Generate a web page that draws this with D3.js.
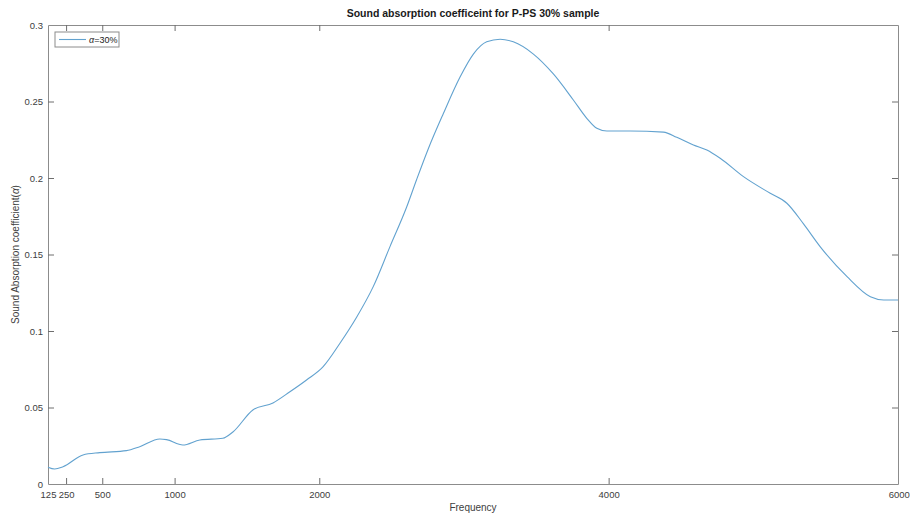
<!DOCTYPE html>
<html lang="en">
<head>
<meta charset="utf-8">
<title>Sound absorption coefficient - P-PS 30%</title>
<script src="https://cdn.jsdelivr.net/npm/d3@7"></script>
<style>
  body { margin: 0; background: #fff; }
  svg text { font-family: "Liberation Sans", Arial, sans-serif; }
</style>
</head>
<body>
<div id="chart"></div>
<script>
// values
var freq = [125, 171, 229, 367, 483, 667, 759, 898, 944, 1057, 1175, 1333, 1403, 1541, 1680,
  1797, 1912, 2027, 2143, 2258, 2373, 2488, 2604, 2673, 2753, 2857, 2973, 3065, 3157, 3250,
  3341, 3480, 3618, 3756, 3849, 3918, 3988, 4149, 4379, 4471, 4586, 4679, 4771, 4932, 5117,
  5232, 5347, 5463, 5648, 5809, 5901, 6000];
var alpha30 = [0.011, 0.0098, 0.0113, 0.019, 0.0205, 0.0218, 0.0244, 0.0294, 0.029, 0.0255, 0.0288, 0.0299, 0.034, 0.0484, 0.053,
  0.0603, 0.068, 0.0767, 0.092, 0.109, 0.129, 0.155, 0.181, 0.199, 0.219, 0.242, 0.266, 0.281, 0.289, 0.2907,
  0.289, 0.281, 0.268, 0.251, 0.239, 0.2325, 0.2307, 0.2307, 0.230, 0.2266, 0.2216, 0.2183, 0.2129, 0.2009, 0.190,
  0.1835, 0.170, 0.155, 0.1355, 0.1224, 0.1203, 0.1203];
var xTicks = [125, 250, 500, 1000, 2000, 4000, 6000];
var yTicks = [0, 0.05, 0.1, 0.15, 0.2, 0.25, 0.3];

var W = 910, H = 515;
var margin = {top: 25, right: 12, bottom: 31, left: 48};
var w = W - margin.left - margin.right,
    h = H - margin.top - margin.bottom;

var svg = d3.select("#chart").append("svg")
    .attr("width", W).attr("height", H);

var g = svg.append("g")
    .attr("transform", "translate(" + margin.left + "," + margin.top + ")");

var x = d3.scaleLinear().domain([125, 6000]).range([0, w]);
var y = d3.scaleLinear().domain([0, 0.3]).range([h, 0]);

var axisColor = "#8c8c8c", textColor = "#404040";

// bottom + top axes (ticks inside, matlab style)
var xb = g.append("g").attr("transform", "translate(0," + h + ")")
    .call(d3.axisBottom(x).tickValues(xTicks).tickSizeInner(-6).tickSizeOuter(0).tickPadding(7)
      .tickFormat(d3.format("d")));
var xt = g.append("g")
    .call(d3.axisTop(x).tickValues(xTicks).tickSizeInner(-6).tickSizeOuter(0).tickFormat(""));
var yl = g.append("g")
    .call(d3.axisLeft(y).tickValues(yTicks).tickSizeInner(-6).tickSizeOuter(0).tickPadding(5)
      .tickFormat(function(d) { return String(+d.toFixed(2)); }));
var yr = g.append("g").attr("transform", "translate(" + w + ",0)")
    .call(d3.axisRight(y).tickValues(yTicks).tickSizeInner(-6).tickSizeOuter(0).tickFormat(""));

[xb, xt, yl, yr].forEach(function(a) {
  a.select(".domain").attr("stroke", axisColor);
  a.selectAll(".tick line").attr("stroke", "#6e6e6e");
  a.selectAll(".tick text").attr("fill", textColor).style("font-size", "9.5px");
});
// drop ticks that sit on the frame corners
xb.selectAll(".tick line").filter(function(d) { return d == 125 || d == 6000; }).remove();
xt.selectAll(".tick line").filter(function(d) { return d == 125 || d == 6000; }).remove();
yl.selectAll(".tick line").filter(function(d) { return d == 0 || d == 0.3; }).remove();
yr.selectAll(".tick line").filter(function(d) { return d == 0 || d == 0.3; }).remove();
// last label stays inside the window
xb.selectAll(".tick text").filter(function(d) { return d == 6000; }).attr("text-anchor", "end").attr("dx", "1.2em");

// the curve
var data = freq.map(function(f, i) { return {f: f, a: alpha30[i]}; });
var line = d3.line()
    .x(function(d) { return x(d.f); })
    .y(function(d) { return y(d.a); })
    .curve(d3.curveMonotoneX);

g.append("path")
    .datum(data)
    .attr("fill", "none")
    .attr("stroke", "#62a2cf")
    .attr("stroke-width", 1.1)
    .attr("d", line);

// title and labels
svg.append("text")
    .attr("x", margin.left + w / 2).attr("y", 17)
    .attr("text-anchor", "middle")
    .style("font-size", "10.5px").style("font-weight", "bold")
    .attr("fill", "#1a1a1a")
    .text("Sound absorption coefficeint for P-PS 30% sample");

svg.append("text")
    .attr("x", margin.left + w / 2).attr("y", 511)
    .attr("text-anchor", "middle")
    .style("font-size", "10px")
    .attr("fill", textColor)
    .text("Frequency");

var ylab = svg.append("text")
    .attr("transform", "translate(19," + (margin.top + h / 2) + ") rotate(-90)")
    .attr("text-anchor", "middle")
    .style("font-size", "10px")
    .attr("fill", textColor);
ylab.append("tspan").text("Sound Absorption coefficient(");
ylab.append("tspan").style("font-style", "italic").text("α");
ylab.append("tspan").text(")");

// legend
var leg = g.append("g").attr("transform", "translate(7,7)");
leg.append("rect")
    .attr("width", 64).attr("height", 15)
    .attr("fill", "#fff").attr("stroke", "#8c8c8c");
leg.append("line")
    .attr("x1", 4).attr("x2", 31).attr("y1", 7.5).attr("y2", 7.5)
    .attr("stroke", "#62a2cf").attr("stroke-width", 1.1);
var lt = leg.append("text")
    .attr("x", 34).attr("y", 11)
    .style("font-size", "9px")
    .attr("fill", "#1a1a1a");
lt.append("tspan").style("font-style", "italic").text("α");
lt.append("tspan").text("=30%");
</script>
</body>
</html>
